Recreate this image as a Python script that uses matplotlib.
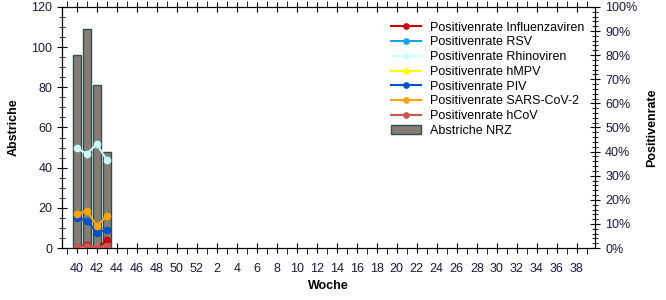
import numpy as np
import matplotlib
matplotlib.use("Agg")
import matplotlib.pyplot as plt
from matplotlib.ticker import MultipleLocator, FixedLocator, PercentFormatter

plt.rcParams['font.family'] = ['Liberation Sans', 'DejaVu Sans']

# weeks of the season (40..52, then 1..39)
weeks = list(range(40, 53)) + list(range(1, 40))
tick_labels = [str(w) if i % 2 == 0 and i <= 50 else "" for i, w in enumerate(weeks)]

# data only for the first four weeks
data_weeks = [40, 41, 42, 43]
abstriche = [96, 109, 81, 48]

rate_influenza = [0.5, 1.2, 0.0, 3.4]
rate_rsv = [0.0, 0.0, 0.0, 0.0]
rate_rhino = [41.4, 39.1, 43.1, 36.4]
rate_hmpv = [0.0, 0.5, 0.0, 0.0]
rate_piv = [12.6, 11.3, 6.4, 7.5]
rate_sars = [14.1, 15.5, 9.2, 13.3]
rate_hcov = [0.3, 0.9, 0.0, 1.0]

series = [
    ("Positivenrate Influenzaviren", rate_influenza, "#cc0000"),
    ("Positivenrate RSV", rate_rsv, "#1ea0e6"),
    ("Positivenrate Rhinoviren", rate_rhino, "#ccffff"),
    ("Positivenrate hMPV", rate_hmpv, "#ffff00"),
    ("Positivenrate PIV", rate_piv, "#0050c8"),
    ("Positivenrate SARS-CoV-2", rate_sars, "#ffa500"),
    ("Positivenrate hCoV", rate_hcov, "#cc5555"),
]

text_col = "#1a1a3a"
x_data = [weeks.index(w) for w in data_weeks]

fig = plt.figure(figsize=(6.66, 3.0), dpi=100)
ax = fig.add_axes([0.093, 0.173, 0.8, 0.804])

bars = ax.bar(x_data, abstriche, width=0.85, color="#867c74", edgecolor="#2f4f4f",
              linewidth=1.0, label="Abstriche NRZ", zorder=2)

ax.set_xlim(-1.5, 51.8)
ax.set_ylim(0, 120)
ax.yaxis.set_major_locator(MultipleLocator(20))
ax.yaxis.set_minor_locator(MultipleLocator(5))
ax.xaxis.set_major_locator(FixedLocator(list(range(0, 51, 2))))
ax.xaxis.set_minor_locator(FixedLocator(list(range(-1, 52))))
ax.set_xticklabels([tick_labels[i] for i in range(0, 51, 2)])
ax.tick_params(axis='y', which='major', direction='inout', length=7, labelsize=9, labelcolor=text_col)
ax.tick_params(axis='y', which='minor', direction='inout', length=5)
ax.tick_params(axis='x', which='major', direction='inout', length=7, labelsize=9, labelcolor=text_col,
               top=True, pad=7)
ax.tick_params(axis='x', which='minor', direction='out', length=4, top=True)
ax.set_xlabel("Woche", fontsize=9, fontweight='bold', labelpad=4)
ax.set_ylabel("Abstriche", fontsize=9, fontweight='bold', labelpad=8)

ax2 = ax.twinx()
ax2.set_ylim(0, 100)
ax2.yaxis.set_major_locator(MultipleLocator(10))
ax2.yaxis.set_minor_locator(MultipleLocator(2))
ax2.yaxis.set_major_formatter(PercentFormatter(decimals=0))
ax2.tick_params(axis='y', which='major', direction='inout', length=7, labelsize=9, labelcolor=text_col, pad=4)
ax2.tick_params(axis='y', which='minor', direction='inout', length=5)
ax2.set_ylabel("Positivenrate", fontsize=9, fontweight='bold', labelpad=6)

lines = []
for name, vals, col in series:
    ln, = ax2.plot(x_data, vals, color=col, linewidth=1.5, marker='o', markersize=4.5, label=name)
    lines.append(ln)

handles = lines + [bars]
labels = [h.get_label() for h in handles]
ax2.legend(handles, labels, loc='upper right', bbox_to_anchor=(0.995, 0.97), frameon=False,
           fontsize=9, handlelength=2.4, labelspacing=0.22, borderaxespad=0.2, handletextpad=0.7,
           markerscale=0.85)

fig.savefig("out.png", dpi=100)
